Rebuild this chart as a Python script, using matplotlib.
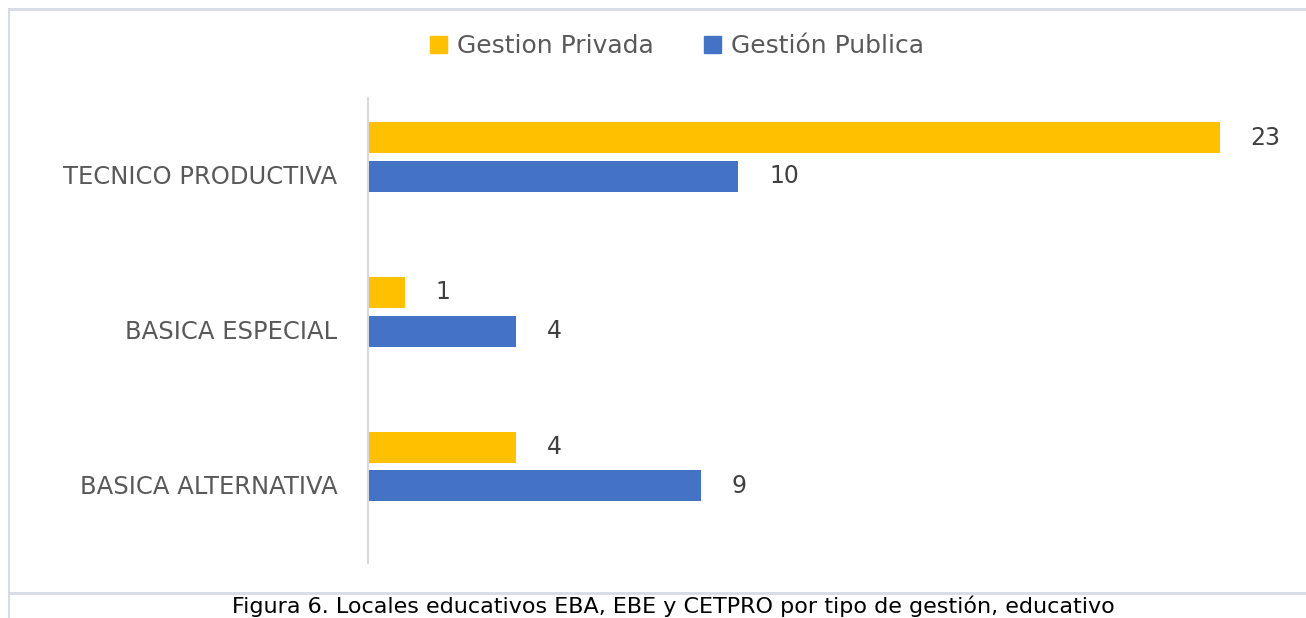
import numpy as np
import matplotlib
matplotlib.use("Agg")
import matplotlib.pyplot as plt
from matplotlib.patches import Patch
from matplotlib.lines import Line2D

# data
categorias = ["TECNICO PRODUCTIVA", "BASICA ESPECIAL", "BASICA ALTERNATIVA"]
privada = [23, 1, 4]
publica = [10, 4, 9]
series = ["Gestion Privada", "Gestión Publica"]
caption = "Figura 6. Locales educativos EBA, EBE y CETPRO por tipo de gestión, educativo"

c_priv = "#FFC000"
c_pub = "#4472C4"
gris = "#595959"

plt.rcParams["font.family"] = ["DejaVu Sans"]

fig = plt.figure(figsize=(13.06, 6.18), dpi=100)
W, H = 1306, 618

# marco gris claro alrededor del grafico
borde = "#d6dce5"
fig.add_artist(Line2D([9 / W, 9 / W], [0, 1 - 9 / H], color=borde, lw=1.5))
fig.add_artist(Line2D([9 / W, 1], [1 - 9 / H, 1 - 9 / H], color=borde, lw=2))
fig.add_artist(Line2D([9 / W, 1], [1 - 593 / H, 1 - 593 / H], color=borde, lw=2))

ax = fig.add_axes([368 / W, (H - 563) / H, 926 / W, 465 / H])

y = np.arange(len(categorias))
h = 0.2
ax.barh(y - 0.125, privada, height=h, color=c_priv, label=series[0])
ax.barh(y + 0.125, publica, height=h, color=c_pub, label=series[1])

for yy, v in zip(y - 0.125, privada):
    ax.annotate(str(v), (v, yy), xytext=(22, 0), textcoords="offset points",
                ha="left", va="center", fontsize=17, color="#404040")
for yy, v in zip(y + 0.125, publica):
    ax.annotate(str(v), (v, yy), xytext=(22, 0), textcoords="offset points",
                ha="left", va="center", fontsize=17, color="#404040")

ax.set_xlim(0, 25)
ax.set_ylim(2.624, -0.381)
ax.set_yticks(y + 0.116)
ax.set_yticklabels(categorias, fontsize=17.5, color=gris)
ax.tick_params(axis="y", length=0, pad=22)
ax.set_xticks([])
for s in ["top", "right", "bottom"]:
    ax.spines[s].set_visible(False)
ax.spines["left"].set_color("#d9d9d9")
ax.spines["left"].set_linewidth(1.5)

handles = [Patch(color=c_priv), Patch(color=c_pub)]
fig.legend(handles, series, loc="center", bbox_to_anchor=(677 / W, 1 - 46 / H),
           ncol=2, frameon=False, fontsize=18, labelcolor=gris,
           handlelength=0.7, handleheight=0.7, handletextpad=0.4,
           columnspacing=2.0)

fig.text(673 / W, 1 - 613 / H, caption, ha="center", va="baseline",
         fontsize=16, color="black")

fig.savefig("out.png", dpi=100)
